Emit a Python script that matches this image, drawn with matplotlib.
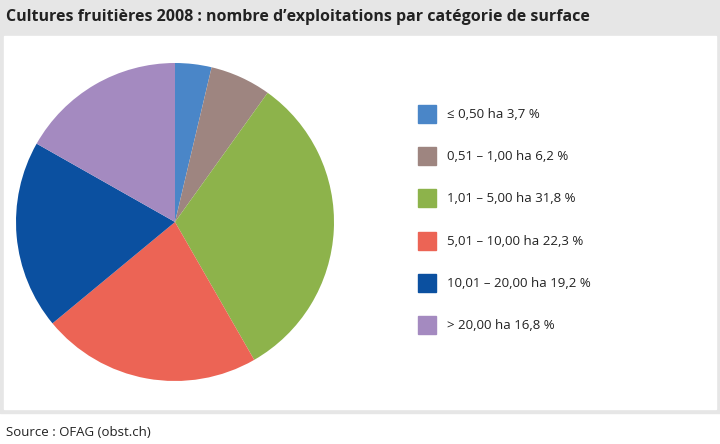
import matplotlib
matplotlib.use("Agg")
import matplotlib.pyplot as plt
from matplotlib.patches import Rectangle

labels = ["≤ 0,50 ha 3,7 %", "0,51 – 1,00 ha 6,2 %", "1,01 – 5,00 ha 31,8 %",
          "5,01 – 10,00 ha 22,3 %", "10,01 – 20,00 ha 19,2 %", "> 20,00 ha 16,8 %"]
values = [3.7, 6.2, 31.8, 22.3, 19.2, 16.8]
colors = ["#4a86c8", "#9e8580", "#8db34b", "#ec6455", "#0b50a0", "#a48ac0"]

W, H = 720, 444
fig = plt.figure(figsize=(W/100, H/100), dpi=100)
fig.patch.set_facecolor("white")
bg = fig.add_axes([0, 0, 1, 1]); bg.set_xlim(0, W); bg.set_ylim(H, 0); bg.axis("off")
bg.add_patch(Rectangle((0, 0), W, 33, color="#e6e6e6"))
bg.add_patch(Rectangle((0, 33), W, 380, color="#e6e6e6"))
bg.add_patch(Rectangle((4, 36), W-8, 373, color="white"))
bg.text(6, 17, "Cultures fruitières 2008 : nombre d’exploitations par catégorie de surface",
        fontsize=11.5, fontweight="bold", va="center", family="Open Sans", color="#222222")
bg.text(6, 432, "Source : OFAG (obst.ch)", fontsize=9.5, va="center", family="Open Sans", color="#222222")

ys = [114, 156, 198, 241, 283, 325]
for y, c, l in zip(ys, colors, labels):
    bg.add_patch(Rectangle((418, y-9), 18, 18, color=c))
    bg.text(447, y, l, fontsize=9.5, va="center", family="Open Sans", color="#222222")

cx, cy, r = 175, 222, 159
ax = fig.add_axes([(cx-r)/W, 1-(cy+r)/H, 2*r/W, 2*r/H])
ax.pie(values, colors=colors, startangle=90, counterclock=False, radius=1,
       wedgeprops=dict(linewidth=0))
ax.set_xlim(-1, 1); ax.set_ylim(-1, 1); ax.set_aspect("auto")
fig.savefig("out.png", dpi=100)
